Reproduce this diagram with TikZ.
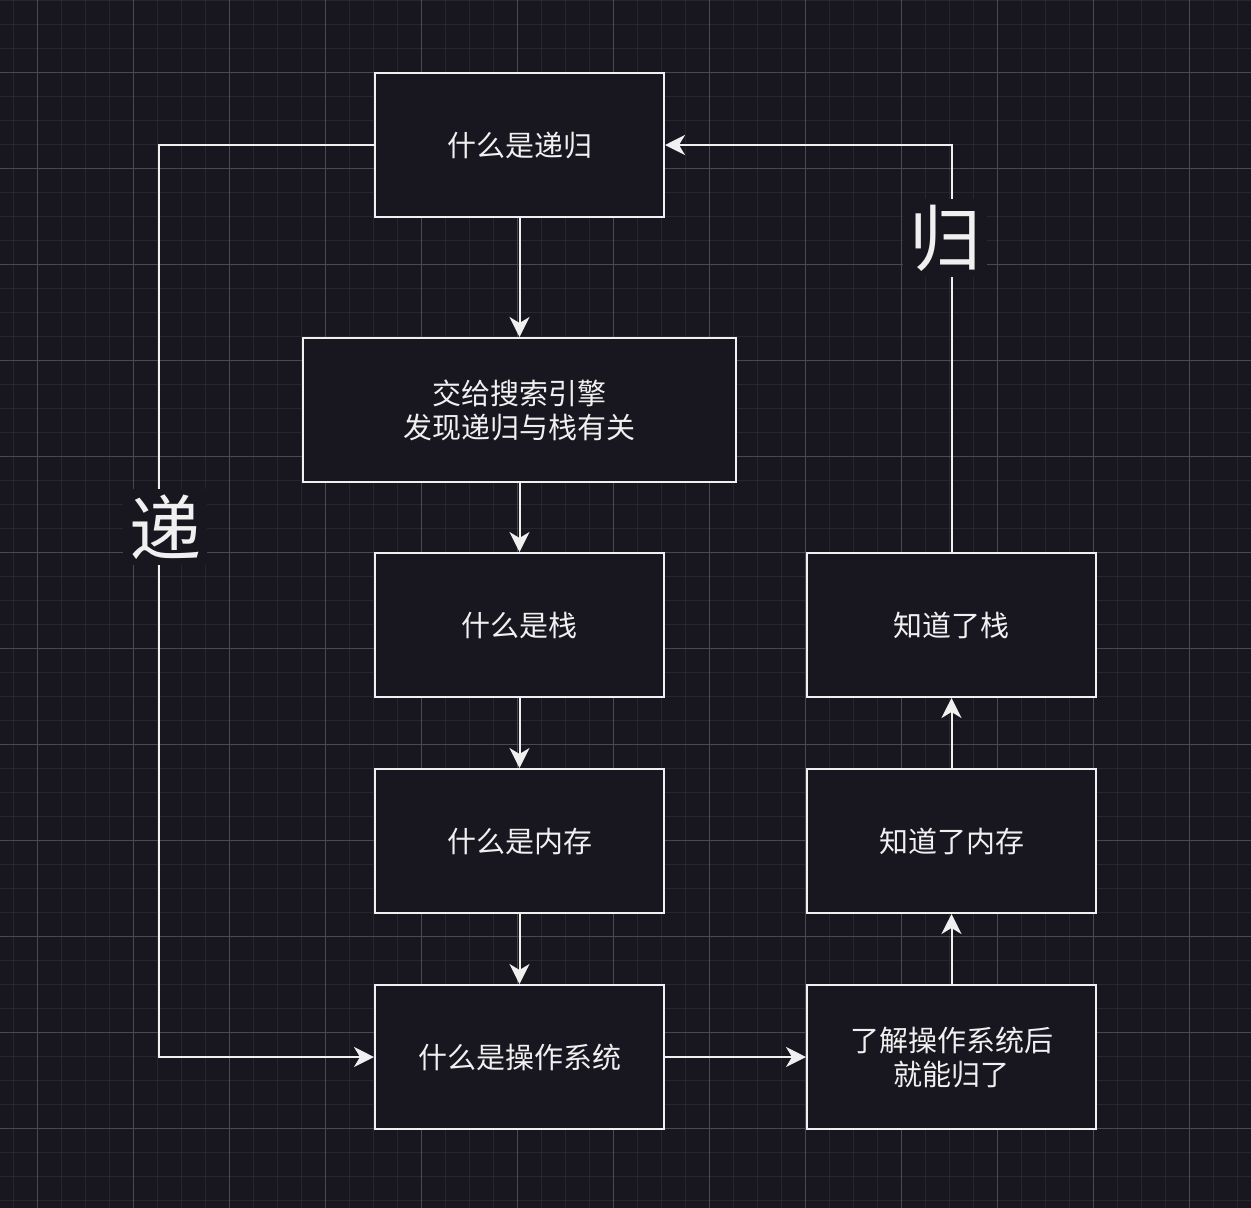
\documentclass[tikz,border=0pt]{standalone}
\usepackage{fontspec}
\setmainfont{Noto Sans CJK SC}
\usetikzlibrary{arrows.meta}
\definecolor{bg}{HTML}{18161F}
\definecolor{minorg}{HTML}{27262D}
\definecolor{majorg}{HTML}{4A4950}
\definecolor{fg}{HTML}{F0F0F0}
\tikzset{
  box/.style={draw=fg, line width=2pt, fill=bg, text=fg, minimum width=289pt, minimum height=144pt, inner sep=0pt, align=center, font=\fontsize{29}{34}\selectfont},
  conn/.style={draw=fg, line width=2pt, -{Stealth[length=20pt,width=20pt,inset=6pt]}},
  biglabel/.style={fill=bg, text=fg, inner sep=6pt, font=\fontsize{72}{80}\selectfont}
}
\begin{document}
\begin{tikzpicture}[x=1pt,y=-1pt]
\fill[bg] (0,0) rectangle (1251,1208);
\useasboundingbox (0,0) rectangle (1251,1208);
\foreach \x in {13,37,...,1250} \draw[minorg, line width=1pt] (\x,0) -- (\x,1208);
\foreach \y in {0,24,...,1208} \draw[minorg, line width=1pt] (0,\y) -- (1251,\y);
\foreach \x in {37,133,...,1250} \draw[majorg, line width=1pt] (\x,0) -- (\x,1208);
\foreach \y in {72,168,...,1208} \draw[majorg, line width=1pt] (0,\y) -- (1251,\y);

\node[box] (b1) at (519.5,145) {什么是递归};
\node[box, minimum width=433pt] (b2) at (519.5,410) {交给搜索引擎\\发现递归与栈有关};
\node[box] (b3) at (519.5,625) {什么是栈};
\node[box] (b4) at (519.5,841) {什么是内存};
\node[box] (b5) at (519.5,1057) {什么是操作系统};
\node[box] (r1) at (951.5,625) {知道了栈};
\node[box] (r2) at (951.5,841) {知道了内存};
\node[box] (r3) at (951.5,1057) {了解操作系统后\\就能归了};

\coordinate (lc1) at (159,145);
\coordinate (lc2) at (159,1057);
\coordinate (rc1) at (951.5,145);

\draw[conn] (b1) -- (b2);
\draw[conn] (b2) -- (b3);
\draw[conn] (b3) -- (b4);
\draw[conn] (b4) -- (b5);
\draw[conn] (b1.west) -- (lc1) -- (lc2) -- (b5.west);
\draw[conn] (b5) -- (r3);
\draw[conn] (r3) -- (r2);
\draw[conn] (r2) -- (r1);
\draw[conn] (r1.north) -- (rc1) -- (b1.east);

\node[biglabel] (ldi) at (165,527) {递};
\node[biglabel] (lgui) at (945,238) {归};
\end{tikzpicture}
\end{document}
